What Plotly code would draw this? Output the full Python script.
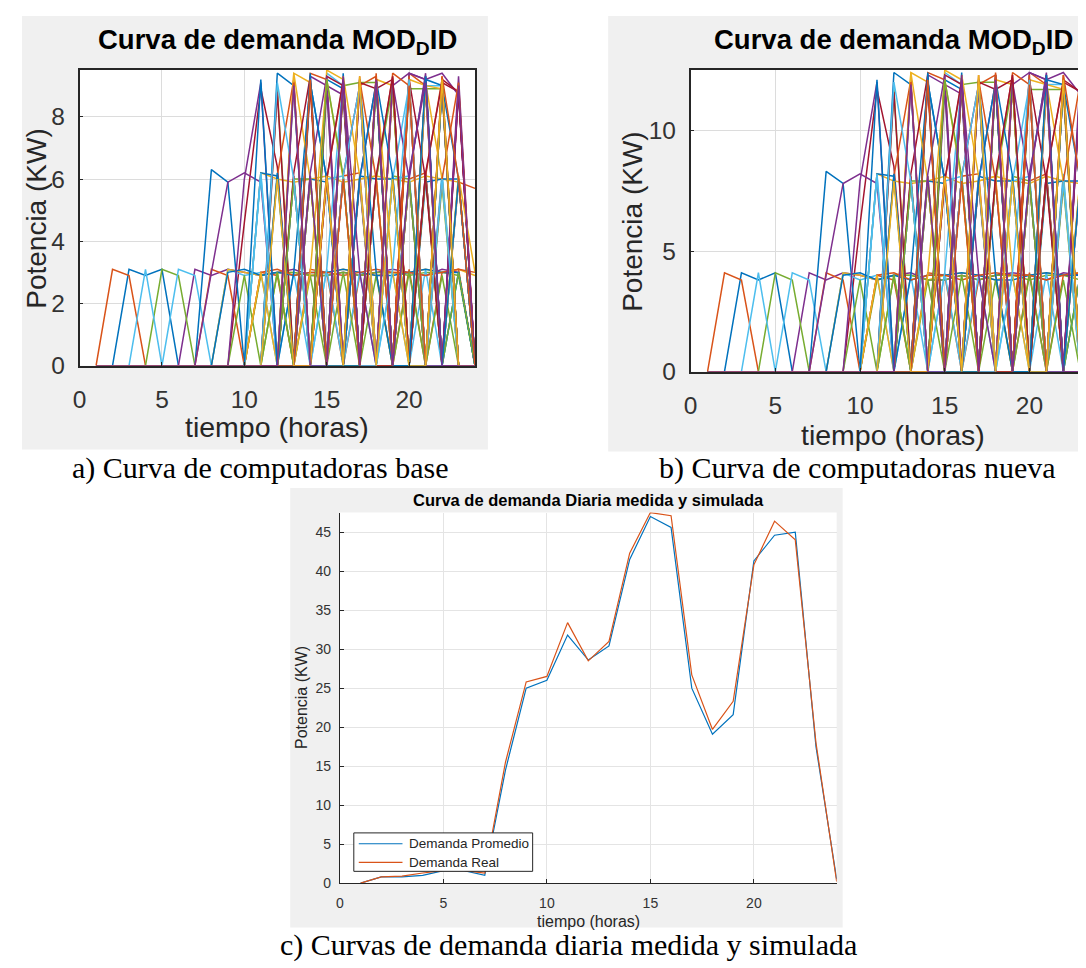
import plotly.graph_objects as go

# ---------------- data ----------------
HOURS = [1, 2, 3, 4, 5, 6, 7, 8, 9, 10, 11, 12, 13, 14, 15, 16, 17, 18, 19, 20, 21, 22, 23, 24]

X_TICKS = [0, 5, 10, 15, 20]
Y_TICKS_A = [0, 2, 4, 6, 8]
Y_TICKS_B = [0, 5, 10]
Y_TICKS_C = [0, 5, 10, 15, 20, 25, 30, 35, 40, 45]

# a) Curva de computadoras base (kW, hours 1..24)
BASE_01 = [0, 0, 3.1, 2.9, 3.1, 0,   0, 0, 0, 0, 0, 0,   0, 0, 0, 0, 0, 0,   0, 0, 0, 0, 0, 0]
BASE_02 = [0, 3.1, 2.9, 0, 0, 0,   0, 0, 0, 0, 0, 0,   0, 0, 0, 0, 0, 0,   0, 0, 0, 0, 0, 0]
BASE_03 = [0, 0, 0, 0, 0, 0,   0, 0, 0, 0, 0, 0,   9.4, 9.1, 0, 9.0, 0, 9.2,   9.0, 0, 9.3, 0, 0, 0]
BASE_04 = [0, 0, 0, 0, 0, 0,   3.1, 2.9, 3.1, 3.0, 2.9, 3.0,   3.1, 2.9, 2.9, 3.0, 2.9, 3.0,   3.1, 3.0, 2.9, 3.1, 3.0, 0]
BASE_05 = [0, 0, 0, 0, 3.1, 2.9,   0, 0, 0, 0, 0, 0,   0, 0, 0, 0, 0, 0,   0, 0, 0, 0, 0, 0]
BASE_06 = [0, 0, 0, 3.1, 0, 3.1,   2.9, 0, 0, 0, 0, 0,   0, 0, 0, 0, 0, 0,   0, 0, 0, 0, 0, 0]
BASE_07 = [0, 0, 0, 0, 0, 0,   0, 0, 0, 4.6, 8.9, 6.4,   0, 0, 0, 0, 0, 0,   0, 0, 0, 0, 0, 0]
BASE_08 = [0, 0, 0, 0, 0, 0,   0, 6.3, 5.9, 0, 0, 0,   0, 0, 0, 0, 0, 0,   0, 0, 0, 0, 0, 0]
BASE_09 = [0, 0, 0, 0, 0, 0,   0, 3.1, 2.9, 0, 3.0, 2.9,   0, 3.1, 3.0, 0, 2.9, 3.0,   0, 3.1, 0, 3.0, 3.1, 0]
BASE_10 = [0, 0, 0, 0, 0, 0,   0, 0, 0, 0, 6.2, 6.0,   5.9, 6.0, 6.1, 5.9, 6.0, 6.1,   6.0, 5.9, 6.1, 6.0, 5.9, 0]
BASE_11 = [0, 0, 0, 0, 0, 0,   0, 3.0, 5.9, 6.2, 5.9, 0,   0, 0, 0, 0, 0, 0,   0, 0, 0, 0, 0, 0]
BASE_12 = [0, 0, 0, 0, 0, 0,   0, 0, 0, 0, 0, 8.9,   0, 0, 0, 9.0, 9.1, 9.1,   0, 8.9, 8.9, 8.9, 0, 0]
BASE_13 = [0, 0, 0, 0, 0, 0,   0, 0, 3.1, 2.9, 3.0, 0,   0, 0, 9.4, 9.0, 0, 0,   9.2, 0, 9.0, 9.0, 0, 0]
BASE_14 = [0, 0, 0, 0, 0, 0,   0, 0, 0, 0, 0, 0,   0, 9.2, 0, 9.0, 0, 9.2,   0, 9.0, 0, 9.1, 8.8, 0]
BASE_15 = [0, 0, 0, 0, 0, 0,   0, 0, 0, 0, 0, 9.4,   9.0, 0, 9.2, 8.9, 0, 9.3,   0, 9.1, 0, 9.0, 0, 0]
BASE_16 = [0, 0, 0, 0, 0, 0,   0, 0, 0, 0, 0, 0,   0, 9.4, 9.2, 0, 9.0, 9.3,   0, 9.4, 9.0, 0, 0, 0]
BASE_17 = [0, 0, 0, 0, 0, 0,   0, 0, 3.1, 3.0, 2.9, 3.0,   3.0, 2.9, 3.0, 3.1, 3.0, 2.9,   3.0, 3.0, 3.1, 3.0, 3.1, 2.9]
BASE_18 = [0, 0, 0, 0, 0, 0,   0, 0, 0, 0, 0, 0,   0, 9.3, 9.0, 8.7, 0, 0,   9.0, 9.4, 9.2, 0, 8.8, 0]
BASE_19 = [0, 0, 0, 0, 0, 0,   0, 0, 0, 0, 0, 0,   6.0, 6.0, 0, 0, 6.0, 0,   6.1, 6.0, 0, 5.8, 0, 0]
BASE_20 = [0, 0, 0, 0, 0, 0,   0, 0, 0, 0, 0, 6.1,   0, 0, 6.0, 6.1, 0, 6.0,   0, 6.1, 0, 6.2, 0, 0]
BASE_21 = [0, 0, 0, 0, 0, 0,   0, 0, 0, 0, 0, 0,   6.1, 0, 6.2, 0, 5.9, 0,   6.1, 0, 6.2, 0, 0, 0]
BASE_22 = [0, 0, 0, 0, 0, 0,   0, 0, 0, 0, 6.2, 6.1,   0, 6.0, 5.9, 0, 6.1, 6.0,   6.0, 0, 5.9, 6.0, 6.0, 0]
BASE_23 = [0, 0, 0, 0, 0, 0,   0, 0, 0, 0, 0, 0,   0, 6.0, 0, 6.1, 6.2, 0,   0, 6.0, 6.2, 0, 5.9, 5.7]
BASE_24 = [0, 0, 0, 0, 0, 0,   0, 0, 0, 0, 0, 0,   0, 0, 0, 0, 0, 0,   0, 9.2, 9.0, 8.9, 0, 0]
BASE_25 = [0, 0, 0, 0, 0, 0,   0, 0, 0, 0, 0, 0,   0, 0, 0, 0, 0, 0,   0, 9.4, 9.2, 9.4, 8.7, 0]
BASE_26 = [0, 0, 0, 0, 0, 0,   0, 0, 0, 0, 2.9, 3.0,   3.0, 2.9, 2.9, 3.0, 2.9, 3.0,   3.0, 2.9, 3.0, 3.0, 2.9, 0]
BASE_27 = [0, 0, 0, 0, 0, 0,   0, 0, 0, 0, 0, 0,   3.0, 0, 3.1, 0, 3.0, 0,   3.0, 0, 3.1, 0, 3.0, 0]
BASE_28 = [0, 0, 0, 0, 0, 0,   0, 0, 0, 0, 0, 8.8,   0, 9.0, 0, 9.1, 0, 9.3,   0, 9.2, 0, 9.0, 0, 0]
BASE_29 = [0, 0, 0, 0, 0, 0,   0, 0, 3.0, 3.1, 2.9, 3.0,   2.9, 3.0, 3.0, 3.1, 3.0, 2.9,   2.9, 3.0, 3.1, 3.0, 3.0, 0]
BASE_30 = [0, 0, 0, 0, 0, 0,   0, 0, 0, 0, 0, 0,   0, 0, 0, 0, 9.3, 0,   9.4, 9.0, 0, 9.3, 0, 0]
BASE_31 = [0, 0, 0, 0, 0, 0,   0, 0, 0, 0, 0, 0,   0, 0, 9.5, 9.2, 0, 0,   0, 0, 0, 9.0, 0, 0]
BASE_32 = [0, 0, 0, 0, 0, 0,   0, 0, 0, 0, 0, 0,   6.0, 0, 0, 6.1, 0, 6.0,   0, 0, 6.2, 0, 6.0, 0]
BASE_33 = [0, 0, 0, 0, 0, 0,   0, 0, 0, 0, 0, 0,   0, 0, 9.0, 0, 0, 9.2,   0, 0, 9.0, 0, 0, 0]
BASE_34 = [0, 0, 0, 0, 0, 0,   0, 0, 0, 0, 0, 0,   0, 6.1, 0, 0, 6.0, 0,   6.2, 0, 0, 6.1, 0, 0]
BASE_35 = [0, 0, 0, 0, 0, 0,   0, 0, 0, 0, 0, 0,   0, 0, 0, 0, 9.1, 8.9,   9.2, 0, 9.2, 0, 8.9, 0]
BASE_36 = [0, 0, 0, 0, 0, 0,   0, 0, 0, 0, 0, 0,   0, 0, 0, 9.4, 0, 9.1,   0, 0, 9.2, 9.0, 0, 0]
BASE_37 = [0, 0, 0, 0, 0, 0,   0, 0, 0, 0, 3.0, 3.1,   2.9, 3.0, 3.0, 2.9, 3.0, 3.1,   3.0, 3.0, 2.9, 3.0, 3.1, 3.0]
BASE_38 = [0, 0, 0, 0, 0, 0,   0, 0, 0, 0, 0, 0,   0, 6.1, 0, 0, 6.0, 6.1,   0, 6.0, 0, 0, 6.1, 0]
BASE_39 = [0, 0, 0, 0, 0, 0,   0, 0, 0, 0, 0, 0,   9.2, 0, 8.9, 0, 9.0, 0,   9.1, 0, 8.9, 0, 0, 0]
BASE_40 = [0, 0, 0, 0, 0, 0,   0, 0, 0, 2.9, 0, 3.0,   0, 2.9, 0, 3.0, 0, 2.9,   0, 3.0, 0, 2.9, 0, 0]
BASE_41 = [0, 0, 0, 0, 0, 0,   0, 0, 0, 0, 6.2, 0,   6.0, 0, 0, 6.1, 0, 0,   6.0, 6.1, 0, 0, 6.0, 0]
BASE_42 = [0, 0, 0, 0, 0, 0,   0, 0, 0, 0, 0, 0,   0, 0, 9.3, 9.0, 0, 0,   9.1, 0, 0, 9.2, 8.8, 0]
BASE_43 = [0, 0, 0, 0, 0, 0,   0, 0, 0, 0, 0, 0,   3.0, 9.1, 6.0, 0, 9.2, 3.0,   0, 6.1, 9.3, 0, 3.0, 0]
BASE_44 = [0, 0, 0, 0, 0, 0,   0, 0, 0, 0, 0, 6.1,   9.2, 0, 6.0, 9.1, 0, 6.0,   9.3, 0, 6.1, 9.2, 0, 0]
BASE_45 = [0, 0, 0, 0, 0, 0,   0, 0, 0, 0, 3.0, 0,   9.4, 6.0, 0, 9.3, 6.1, 0,   9.0, 0, 9.1, 6.0, 0, 0]
BASE_46 = [0, 0, 0, 0, 0, 0,   0, 0, 0, 0, 0, 0,   0, 6.2, 9.3, 0, 6.0, 9.1,   0, 6.0, 9.4, 0, 9.3, 0]
BASE_47 = [0, 0, 0, 0, 0, 0,   0, 0, 0, 0, 0, 3.0,   0, 6.0, 0, 9.1, 0, 6.0,   9.0, 0, 6.1, 0, 3.0, 0]
BASE_48 = [0, 0, 0, 0, 0, 0,   0, 0, 0, 0, 6.1, 0,   9.0, 0, 3.1, 9.2, 0, 0,   6.0, 9.0, 0, 9.1, 0, 0]
BASE_49 = [0, 0, 0, 0, 0, 0,   0, 0, 0, 0, 0, 0,   6.2, 9.3, 0, 6.1, 9.0, 0,   0, 9.2, 6.0, 0, 8.9, 0]
BASE_50 = [0, 0, 0, 0, 0, 0,   0, 0, 0, 0, 0, 6.2,   0, 9.1, 6.0, 0, 0, 9.2,   6.1, 0, 0, 9.0, 6.0, 0]
BASE_51 = [0, 0, 0, 0, 0, 0,   0, 0, 0, 0, 0, 0,   9.1, 0, 6.1, 0, 9.2, 6.0,   0, 9.3, 0, 6.0, 9.1, 0]
BASE_52 = [0, 0, 0, 0, 0, 0,   0, 0, 0, 0, 0, 0,   0, 3.0, 9.2, 6.0, 0, 9.1,   3.0, 0, 9.0, 0, 6.1, 3.0]
BASE_53 = [0, 0, 0, 0, 0, 0,   0, 0, 0, 6.0, 9.1, 0,   0, 6.1, 0, 9.2, 3.0, 0,   9.1, 6.0, 0, 0, 9.0, 0]
BASE_54 = [0, 0, 0, 0, 0, 0,   0, 0, 0, 0, 0, 0,   6.0, 0, 9.2, 6.1, 0, 9.0,   0, 6.0, 0, 9.2, 0, 0]
BASE_55 = [0, 0, 0, 0, 0, 0,   0, 0, 0, 0, 0, 9.1,   6.0, 0, 0, 6.1, 9.0, 0,   3.1, 9.2, 0, 6.0, 0, 0]
BASE_56 = [0, 0, 0, 0, 0, 0,   0, 0, 0, 0, 0, 0,   0, 0, 6.0, 9.2, 0, 6.1,   9.3, 0, 6.2, 9.1, 0, 0]
BASE_57 = [0, 0, 0, 0, 0, 0,   0, 0, 0, 0, 9.2, 0,   0, 9.4, 0, 0, 6.0, 9.1,   0, 0, 9.3, 0, 6.0, 0]
BASE_58 = [0, 0, 0, 0, 0, 0,   0, 0, 0, 0, 0, 0,   0, 9.2, 0, 6.0, 0, 9.4,   0, 9.0, 0, 9.3, 6.0, 0]
BASE_59 = [0, 0, 0, 0, 0, 0,   0, 0, 0, 0, 0, 6.0,   0, 0, 6.1, 0, 9.3, 0,   6.0, 0, 0, 9.2, 0, 0]
BASE_60 = [0, 0, 0, 0, 0, 0,   0, 0, 0, 0, 0, 0,   9.0, 0, 0, 9.3, 0, 9.2,   0, 6.2, 9.1, 0, 0, 0]

# b) Curva de computadoras nueva (kW, hours 1..24)
NUEVA_01 = [0, 0, 4.1, 3.8, 4.1, 0,   0, 0, 0, 0, 0, 0,   0, 0, 0, 0, 0, 0,   0, 0, 0, 0, 0, 0]
NUEVA_02 = [0, 4.1, 3.8, 0, 0, 0,   0, 0, 0, 0, 0, 0,   0, 0, 0, 0, 0, 0,   0, 0, 0, 0, 0, 0]
NUEVA_03 = [0, 0, 0, 0, 0, 0,   0, 0, 0, 0, 0, 0,   12.4, 12.0, 0, 11.9, 0, 12.1,   11.9, 0, 12.3, 0, 0, 0]
NUEVA_04 = [0, 0, 0, 0, 0, 0,   4.1, 3.8, 4.1, 4.0, 3.8, 4.0,   4.1, 3.8, 3.8, 4.0, 3.8, 4.0,   4.1, 4.0, 3.8, 4.1, 4.0, 0]
NUEVA_05 = [0, 0, 0, 0, 4.1, 3.8,   0, 0, 0, 0, 0, 0,   0, 0, 0, 0, 0, 0,   0, 0, 0, 0, 0, 0]
NUEVA_06 = [0, 0, 0, 4.1, 0, 4.1,   3.8, 0, 0, 0, 0, 0,   0, 0, 0, 0, 0, 0,   0, 0, 0, 0, 0, 0]
NUEVA_07 = [0, 0, 0, 0, 0, 0,   0, 0, 0, 6.1, 11.7, 8.5,   0, 0, 0, 0, 0, 0,   0, 0, 0, 0, 0, 0]
NUEVA_08 = [0, 0, 0, 0, 0, 0,   0, 8.3, 7.8, 0, 0, 0,   0, 0, 0, 0, 0, 0,   0, 0, 0, 0, 0, 0]
NUEVA_09 = [0, 0, 0, 0, 0, 0,   0, 4.1, 3.8, 0, 4.0, 3.8,   0, 4.1, 4.0, 0, 3.8, 4.0,   0, 4.1, 0, 4.0, 4.1, 0]
NUEVA_10 = [0, 0, 0, 0, 0, 0,   0, 0, 0, 0, 8.2, 7.9,   7.8, 7.9, 8.1, 7.8, 7.9, 8.1,   7.9, 7.8, 8.1, 7.9, 7.8, 0]
NUEVA_11 = [0, 0, 0, 0, 0, 0,   0, 4.0, 7.8, 8.2, 7.8, 0,   0, 0, 0, 0, 0, 0,   0, 0, 0, 0, 0, 0]
NUEVA_12 = [0, 0, 0, 0, 0, 0,   0, 0, 0, 0, 0, 11.7,   0, 0, 0, 11.9, 12.0, 12.0,   0, 11.7, 11.7, 11.7, 0, 0]
NUEVA_13 = [0, 0, 0, 0, 0, 0,   0, 0, 4.1, 3.8, 4.0, 0,   0, 0, 12.4, 11.9, 0, 0,   12.1, 0, 11.9, 11.9, 0, 0]
NUEVA_14 = [0, 0, 0, 0, 0, 0,   0, 0, 0, 0, 0, 0,   0, 12.1, 0, 11.9, 0, 12.1,   0, 11.9, 0, 12.0, 11.6, 0]
NUEVA_15 = [0, 0, 0, 0, 0, 0,   0, 0, 0, 0, 0, 12.4,   11.9, 0, 12.1, 11.7, 0, 12.3,   0, 12.0, 0, 11.9, 0, 0]
NUEVA_16 = [0, 0, 0, 0, 0, 0,   0, 0, 0, 0, 0, 0,   0, 12.4, 12.1, 0, 11.9, 12.3,   0, 12.4, 11.9, 0, 0, 0]
NUEVA_17 = [0, 0, 0, 0, 0, 0,   0, 0, 4.1, 4.0, 3.8, 4.0,   4.0, 3.8, 4.0, 4.1, 4.0, 3.8,   4.0, 4.0, 4.1, 4.0, 4.1, 3.8]
NUEVA_18 = [0, 0, 0, 0, 0, 0,   0, 0, 0, 0, 0, 0,   0, 12.3, 11.9, 11.5, 0, 0,   11.9, 12.4, 12.1, 0, 11.6, 0]
NUEVA_19 = [0, 0, 0, 0, 0, 0,   0, 0, 0, 0, 0, 0,   7.9, 7.9, 0, 0, 7.9, 0,   8.1, 7.9, 0, 7.7, 0, 0]
NUEVA_20 = [0, 0, 0, 0, 0, 0,   0, 0, 0, 0, 0, 8.1,   0, 0, 7.9, 8.1, 0, 7.9,   0, 8.1, 0, 8.2, 0, 0]
NUEVA_21 = [0, 0, 0, 0, 0, 0,   0, 0, 0, 0, 0, 0,   8.1, 0, 8.2, 0, 7.8, 0,   8.1, 0, 8.2, 0, 0, 0]
NUEVA_22 = [0, 0, 0, 0, 0, 0,   0, 0, 0, 0, 8.2, 8.1,   0, 7.9, 7.8, 0, 8.1, 7.9,   7.9, 0, 7.8, 7.9, 7.9, 0]
NUEVA_23 = [0, 0, 0, 0, 0, 0,   0, 0, 0, 0, 0, 0,   0, 7.9, 0, 8.1, 8.2, 0,   0, 7.9, 8.2, 0, 7.8, 7.5]
NUEVA_24 = [0, 0, 0, 0, 0, 0,   0, 0, 0, 0, 0, 0,   0, 0, 0, 0, 0, 0,   0, 12.1, 11.9, 11.7, 0, 0]
NUEVA_25 = [0, 0, 0, 0, 0, 0,   0, 0, 0, 0, 0, 0,   0, 0, 0, 0, 0, 0,   0, 12.4, 12.1, 12.4, 11.5, 0]
NUEVA_26 = [0, 0, 0, 0, 0, 0,   0, 0, 0, 0, 3.8, 4.0,   4.0, 3.8, 3.8, 4.0, 3.8, 4.0,   4.0, 3.8, 4.0, 4.0, 3.8, 0]
NUEVA_27 = [0, 0, 0, 0, 0, 0,   0, 0, 0, 0, 0, 0,   4.0, 0, 4.1, 0, 4.0, 0,   4.0, 0, 4.1, 0, 4.0, 0]
NUEVA_28 = [0, 0, 0, 0, 0, 0,   0, 0, 0, 0, 0, 11.6,   0, 11.9, 0, 12.0, 0, 12.3,   0, 12.1, 0, 11.9, 0, 0]
NUEVA_29 = [0, 0, 0, 0, 0, 0,   0, 0, 4.0, 4.1, 3.8, 4.0,   3.8, 4.0, 4.0, 4.1, 4.0, 3.8,   3.8, 4.0, 4.1, 4.0, 4.0, 0]
NUEVA_30 = [0, 0, 0, 0, 0, 0,   0, 0, 0, 0, 0, 0,   0, 0, 0, 0, 12.3, 0,   12.4, 11.9, 0, 12.3, 0, 0]
NUEVA_31 = [0, 0, 0, 0, 0, 0,   0, 0, 0, 0, 0, 0,   0, 0, 12.5, 12.1, 0, 0,   0, 0, 0, 11.9, 0, 0]
NUEVA_32 = [0, 0, 0, 0, 0, 0,   0, 0, 0, 0, 0, 0,   7.9, 0, 0, 8.1, 0, 7.9,   0, 0, 8.2, 0, 7.9, 0]
NUEVA_33 = [0, 0, 0, 0, 0, 0,   0, 0, 0, 0, 0, 0,   0, 0, 11.9, 0, 0, 12.1,   0, 0, 11.9, 0, 0, 0]
NUEVA_34 = [0, 0, 0, 0, 0, 0,   0, 0, 0, 0, 0, 0,   0, 8.1, 0, 0, 7.9, 0,   8.2, 0, 0, 8.1, 0, 0]
NUEVA_35 = [0, 0, 0, 0, 0, 0,   0, 0, 0, 0, 0, 0,   0, 0, 0, 0, 12.0, 11.7,   12.1, 0, 12.1, 0, 11.7, 0]
NUEVA_36 = [0, 0, 0, 0, 0, 0,   0, 0, 0, 0, 0, 0,   0, 0, 0, 12.4, 0, 12.0,   0, 0, 12.1, 11.9, 0, 0]
NUEVA_37 = [0, 0, 0, 0, 0, 0,   0, 0, 0, 0, 4.0, 4.1,   3.8, 4.0, 4.0, 3.8, 4.0, 4.1,   4.0, 4.0, 3.8, 4.0, 4.1, 4.0]
NUEVA_38 = [0, 0, 0, 0, 0, 0,   0, 0, 0, 0, 0, 0,   0, 8.1, 0, 0, 7.9, 8.1,   0, 7.9, 0, 0, 8.1, 0]
NUEVA_39 = [0, 0, 0, 0, 0, 0,   0, 0, 0, 0, 0, 0,   12.1, 0, 11.7, 0, 11.9, 0,   12.0, 0, 11.7, 0, 0, 0]
NUEVA_40 = [0, 0, 0, 0, 0, 0,   0, 0, 0, 3.8, 0, 4.0,   0, 3.8, 0, 4.0, 0, 3.8,   0, 4.0, 0, 3.8, 0, 0]
NUEVA_41 = [0, 0, 0, 0, 0, 0,   0, 0, 0, 0, 8.2, 0,   7.9, 0, 0, 8.1, 0, 0,   7.9, 8.1, 0, 0, 7.9, 0]
NUEVA_42 = [0, 0, 0, 0, 0, 0,   0, 0, 0, 0, 0, 0,   0, 0, 12.3, 11.9, 0, 0,   12.0, 0, 0, 12.1, 11.6, 0]
NUEVA_43 = [0, 0, 0, 0, 0, 0,   0, 0, 0, 0, 0, 0,   4.0, 12.0, 7.9, 0, 12.1, 4.0,   0, 8.1, 12.3, 0, 4.0, 0]
NUEVA_44 = [0, 0, 0, 0, 0, 0,   0, 0, 0, 0, 0, 8.1,   12.1, 0, 7.9, 12.0, 0, 7.9,   12.3, 0, 8.1, 12.1, 0, 0]
NUEVA_45 = [0, 0, 0, 0, 0, 0,   0, 0, 0, 0, 4.0, 0,   12.4, 7.9, 0, 12.3, 8.1, 0,   11.9, 0, 12.0, 7.9, 0, 0]
NUEVA_46 = [0, 0, 0, 0, 0, 0,   0, 0, 0, 0, 0, 0,   0, 8.2, 12.3, 0, 7.9, 12.0,   0, 7.9, 12.4, 0, 12.3, 0]
NUEVA_47 = [0, 0, 0, 0, 0, 0,   0, 0, 0, 0, 0, 4.0,   0, 7.9, 0, 12.0, 0, 7.9,   11.9, 0, 8.1, 0, 4.0, 0]
NUEVA_48 = [0, 0, 0, 0, 0, 0,   0, 0, 0, 0, 8.1, 0,   11.9, 0, 4.1, 12.1, 0, 0,   7.9, 11.9, 0, 12.0, 0, 0]
NUEVA_49 = [0, 0, 0, 0, 0, 0,   0, 0, 0, 0, 0, 0,   8.2, 12.3, 0, 8.1, 11.9, 0,   0, 12.1, 7.9, 0, 11.7, 0]
NUEVA_50 = [0, 0, 0, 0, 0, 0,   0, 0, 0, 0, 0, 8.2,   0, 12.0, 7.9, 0, 0, 12.1,   8.1, 0, 0, 11.9, 7.9, 0]
NUEVA_51 = [0, 0, 0, 0, 0, 0,   0, 0, 0, 0, 0, 0,   12.0, 0, 8.1, 0, 12.1, 7.9,   0, 12.3, 0, 7.9, 12.0, 0]
NUEVA_52 = [0, 0, 0, 0, 0, 0,   0, 0, 0, 0, 0, 0,   0, 4.0, 12.1, 7.9, 0, 12.0,   4.0, 0, 11.9, 0, 8.1, 4.0]
NUEVA_53 = [0, 0, 0, 0, 0, 0,   0, 0, 0, 7.9, 12.0, 0,   0, 8.1, 0, 12.1, 4.0, 0,   12.0, 7.9, 0, 0, 11.9, 0]
NUEVA_54 = [0, 0, 0, 0, 0, 0,   0, 0, 0, 0, 0, 0,   7.9, 0, 12.1, 8.1, 0, 11.9,   0, 7.9, 0, 12.1, 0, 0]
NUEVA_55 = [0, 0, 0, 0, 0, 0,   0, 0, 0, 0, 0, 12.0,   7.9, 0, 0, 8.1, 11.9, 0,   4.1, 12.1, 0, 7.9, 0, 0]
NUEVA_56 = [0, 0, 0, 0, 0, 0,   0, 0, 0, 0, 0, 0,   0, 0, 7.9, 12.1, 0, 8.1,   12.3, 0, 8.2, 12.0, 0, 0]
NUEVA_57 = [0, 0, 0, 0, 0, 0,   0, 0, 0, 0, 12.1, 0,   0, 12.4, 0, 0, 7.9, 12.0,   0, 0, 12.3, 0, 7.9, 0]
NUEVA_58 = [0, 0, 0, 0, 0, 0,   0, 0, 0, 0, 0, 0,   0, 12.1, 0, 7.9, 0, 12.4,   0, 11.9, 0, 12.3, 7.9, 0]
NUEVA_59 = [0, 0, 0, 0, 0, 0,   0, 0, 0, 0, 0, 7.9,   0, 0, 8.1, 0, 12.3, 0,   7.9, 0, 0, 12.1, 0, 0]
NUEVA_60 = [0, 0, 0, 0, 0, 0,   0, 0, 0, 0, 0, 0,   11.9, 0, 0, 12.3, 0, 12.1,   0, 8.2, 12.0, 0, 0, 0]

# c) Curva de demanda diaria medida y simulada (kW, hours 1..24)
DEMANDA_PROMEDIO = [0, 0.8, 0.8, 1.0, 1.6, 1.6, 1.0, 14.5, 25.0, 26.0, 31.8, 28.6,
                    30.4, 41.5, 47.0, 45.6, 25.0, 19.1, 21.6, 41.3, 44.6, 45.0, 17.5, 0.5]
DEMANDA_REAL = [0, 0.8, 0.9, 1.3, 1.6, 1.6, 1.3, 15.5, 25.8, 26.5, 33.4, 28.5,
                31.0, 42.3, 47.5, 47.1, 26.7, 19.7, 23.3, 40.8, 46.4, 44.0, 18.0, 0.2]
LEGEND_NAMES = ["Demanda Promedio", "Demanda Real"]

BASE_SERIES = [BASE_01, BASE_02, BASE_03, BASE_04, BASE_05, BASE_06, BASE_07, BASE_08, BASE_09, BASE_10,
               BASE_11, BASE_12, BASE_13, BASE_14, BASE_15, BASE_16, BASE_17, BASE_18, BASE_19, BASE_20,
               BASE_21, BASE_22, BASE_23, BASE_24, BASE_25, BASE_26, BASE_27, BASE_28, BASE_29, BASE_30,
               BASE_31, BASE_32, BASE_33, BASE_34, BASE_35, BASE_36, BASE_37, BASE_38, BASE_39, BASE_40,
               BASE_41, BASE_42, BASE_43, BASE_44, BASE_45, BASE_46, BASE_47, BASE_48, BASE_49, BASE_50,
               BASE_51, BASE_52, BASE_53, BASE_54, BASE_55, BASE_56, BASE_57, BASE_58, BASE_59, BASE_60]
NUEVA_SERIES = [NUEVA_01, NUEVA_02, NUEVA_03, NUEVA_04, NUEVA_05, NUEVA_06, NUEVA_07, NUEVA_08, NUEVA_09, NUEVA_10,
                NUEVA_11, NUEVA_12, NUEVA_13, NUEVA_14, NUEVA_15, NUEVA_16, NUEVA_17, NUEVA_18, NUEVA_19, NUEVA_20,
                NUEVA_21, NUEVA_22, NUEVA_23, NUEVA_24, NUEVA_25, NUEVA_26, NUEVA_27, NUEVA_28, NUEVA_29, NUEVA_30,
                NUEVA_31, NUEVA_32, NUEVA_33, NUEVA_34, NUEVA_35, NUEVA_36, NUEVA_37, NUEVA_38, NUEVA_39, NUEVA_40,
                NUEVA_41, NUEVA_42, NUEVA_43, NUEVA_44, NUEVA_45, NUEVA_46, NUEVA_47, NUEVA_48, NUEVA_49, NUEVA_50,
                NUEVA_51, NUEVA_52, NUEVA_53, NUEVA_54, NUEVA_55, NUEVA_56, NUEVA_57, NUEVA_58, NUEVA_59, NUEVA_60]

# ---------------- style ----------------
W, H = 1086, 968
MATLAB_COLORS = ["#0072BD", "#D95319", "#EDB120", "#7E2F8E", "#77AC30", "#4DBEEE", "#A2142F"]
SANS = "Liberation Sans, Arial, Helvetica, sans-serif"
SERIF = "Liberation Serif, Times New Roman, serif"
AXIS_DARK = "#262626"
TICK_TXT = "#333333"
FIG_GRAY = "#f0f0f0"


def fx(px):
    return px / W


def fy(py):
    return 1 - py / H


fig = go.Figure()

for k, s in enumerate(BASE_SERIES):
    fig.add_trace(go.Scatter(x=HOURS, y=s, mode="lines", xaxis="x", yaxis="y",
                             line=dict(color=MATLAB_COLORS[k % 7], width=1.5),
                             showlegend=False, hoverinfo="skip"))
for k, s in enumerate(NUEVA_SERIES):
    fig.add_trace(go.Scatter(x=HOURS, y=s, mode="lines", xaxis="x2", yaxis="y2",
                             line=dict(color=MATLAB_COLORS[k % 7], width=1.5),
                             showlegend=False, hoverinfo="skip"))

fig.add_trace(go.Scatter(x=HOURS, y=DEMANDA_PROMEDIO, mode="lines", xaxis="x3", yaxis="y3",
                         name=LEGEND_NAMES[0], line=dict(color=MATLAB_COLORS[0], width=1.2),
                         showlegend=False))
fig.add_trace(go.Scatter(x=HOURS, y=DEMANDA_REAL, mode="lines", xaxis="x3", yaxis="y3",
                         name=LEGEND_NAMES[1], line=dict(color=MATLAB_COLORS[1], width=1.2),
                         showlegend=False))

# panel plot-area pixel boxes (left, top, right, bottom)
A_BOX = (65, 63, 463, 363)
B_BOX = (680, 63, 1086, 369)
C_BOX = (327, 512, 827, 888)


def axis_common(size, standoff, grid):
    return dict(showgrid=True, gridcolor=grid, gridwidth=1, zeroline=False,
                showline=True, linecolor=AXIS_DARK, ticks="inside", ticklen=4,
                tickcolor=AXIS_DARK, tickfont=dict(size=size, family=SANS, color=TICK_TXT),
                ticklabelstandoff=standoff, fixedrange=True)


xa = axis_common(24.5, 11, "#dcdcdc")
xa.update(domain=[fx(A_BOX[0]), fx(A_BOX[2])], range=[0, 24], tickvals=X_TICKS,
          anchor="y", mirror=True, linewidth=1.5)
ya = axis_common(24.5, 8, "#dcdcdc")
ya.update(domain=[fy(A_BOX[3]), fy(A_BOX[1])], range=[0, 9.5], tickvals=Y_TICKS_A,
          anchor="x", mirror=True, linewidth=1.5)

xb = axis_common(24.5, 11, "#dcdcdc")
xb.update(domain=[fx(B_BOX[0]), 1.0], range=[0, 23.81], tickvals=X_TICKS,
          anchor="y2", mirror=True, linewidth=1.5)
yb = axis_common(24.5, 8, "#dcdcdc")
yb.update(domain=[fy(B_BOX[3]), fy(B_BOX[1])], range=[0, 12.5], tickvals=Y_TICKS_B,
          anchor="x2", mirror=False, linewidth=1.5)

xc = axis_common(14, 7, "#e4e4e4")
xc.update(domain=[fx(C_BOX[0]), fx(C_BOX[2])], range=[0, 24], tickvals=X_TICKS,
          anchor="y3", mirror=False, linewidth=1)
yc = axis_common(14, 5, "#e4e4e4")
yc.update(domain=[fy(C_BOX[3]), fy(C_BOX[1])], range=[0, 47.5], tickvals=Y_TICKS_C,
          anchor="x3", mirror=False, linewidth=1)


def rect(l, t, r, b, color, layer="below", border=None):
    return dict(type="rect", xref="paper", yref="paper", x0=fx(l), x1=fx(r), y0=fy(b), y1=fy(t),
                fillcolor=color, layer=layer,
                line=dict(width=1, color=border) if border else dict(width=0))


def seg(x0, x1, yp, color):
    return dict(type="line", xref="paper", yref="paper", x0=fx(x0), x1=fx(x1), y0=fy(yp), y1=fy(yp),
                line=dict(color=color, width=1.2), layer="above")


# legend box of panel c (drawn by hand to match the MATLAB legend size)
LEG = (341, 837, 521, 876)
shapes = [
    rect(7, 8, 476, 448, FIG_GRAY),
    rect(597, 8, 1086, 450, FIG_GRAY),
    rect(277, 487, 833, 933, FIG_GRAY),
    rect(*A_BOX, "white"),
    rect(*B_BOX, "white"),
    rect(*C_BOX, "white"),
    rect(*LEG, "white", layer="above", border=AXIS_DARK),
    seg(346, 390, 848, MATLAB_COLORS[0]),
    seg(346, 390, 867, MATLAB_COLORS[1]),
]


def ann(text, xp, yp, size, family=SANS, color=AXIS_DARK, angle=0, xanchor="center"):
    return dict(text=text, x=fx(xp), y=fy(yp), xref="paper", yref="paper",
                xanchor=xanchor, yanchor="middle", showarrow=False, textangle=angle,
                font=dict(size=size, family=family, color=color))


annotations = [
    ann("<b>Curva de demanda MOD<sub>D</sub>ID</b>", 264, 34, 27.5, color="#000000"),
    ann("tiempo (horas)", 264, 425, 28.5),
    ann("Potencia (KW)", 22, 213, 28),
    ann("<b>Curva de demanda MOD<sub>D</sub>ID</b>", 884, 34, 27.5, color="#000000"),
    ann("tiempo (horas)", 884, 433, 28.5),
    ann("Potencia (KW)", 622, 216, 28),
    ann("<b>Curva de demanda Diaria medida y simulada</b>", 577, 499, 16.5, color="#000000"),
    ann("tiempo (horas)", 577, 927, 16),
    ann("Potencia (KW)", 289, 700, 16),
    ann(LEGEND_NAMES[0], 395, 848, 13.5, xanchor="left"),
    ann(LEGEND_NAMES[1], 395, 867, 13.5, xanchor="left"),
    ann("a) Curva de computadoras base", 247, 467, 30, family=SERIF, color="#000000"),
    ann("b) Curva de computadoras nueva", 848, 467, 30, family=SERIF, color="#000000"),
    ann("c) Curvas de demanda diaria medida y simulada", 557, 951, 30, family=SERIF, color="#000000"),
]
for a in annotations:
    if a["text"] == "Potencia (KW)":
        a["textangle"] = -90

fig.update_layout(
    width=W, height=H,
    margin=dict(l=0, r=0, t=0, b=0),
    paper_bgcolor="white",
    plot_bgcolor="rgba(0,0,0,0)",
    font=dict(family=SANS, color=AXIS_DARK),
    xaxis=xa, yaxis=ya, xaxis2=xb, yaxis2=yb, xaxis3=xc, yaxis3=yc,
    shapes=shapes,
    annotations=annotations,
    showlegend=False,
)

fig.write_html("out.html")
